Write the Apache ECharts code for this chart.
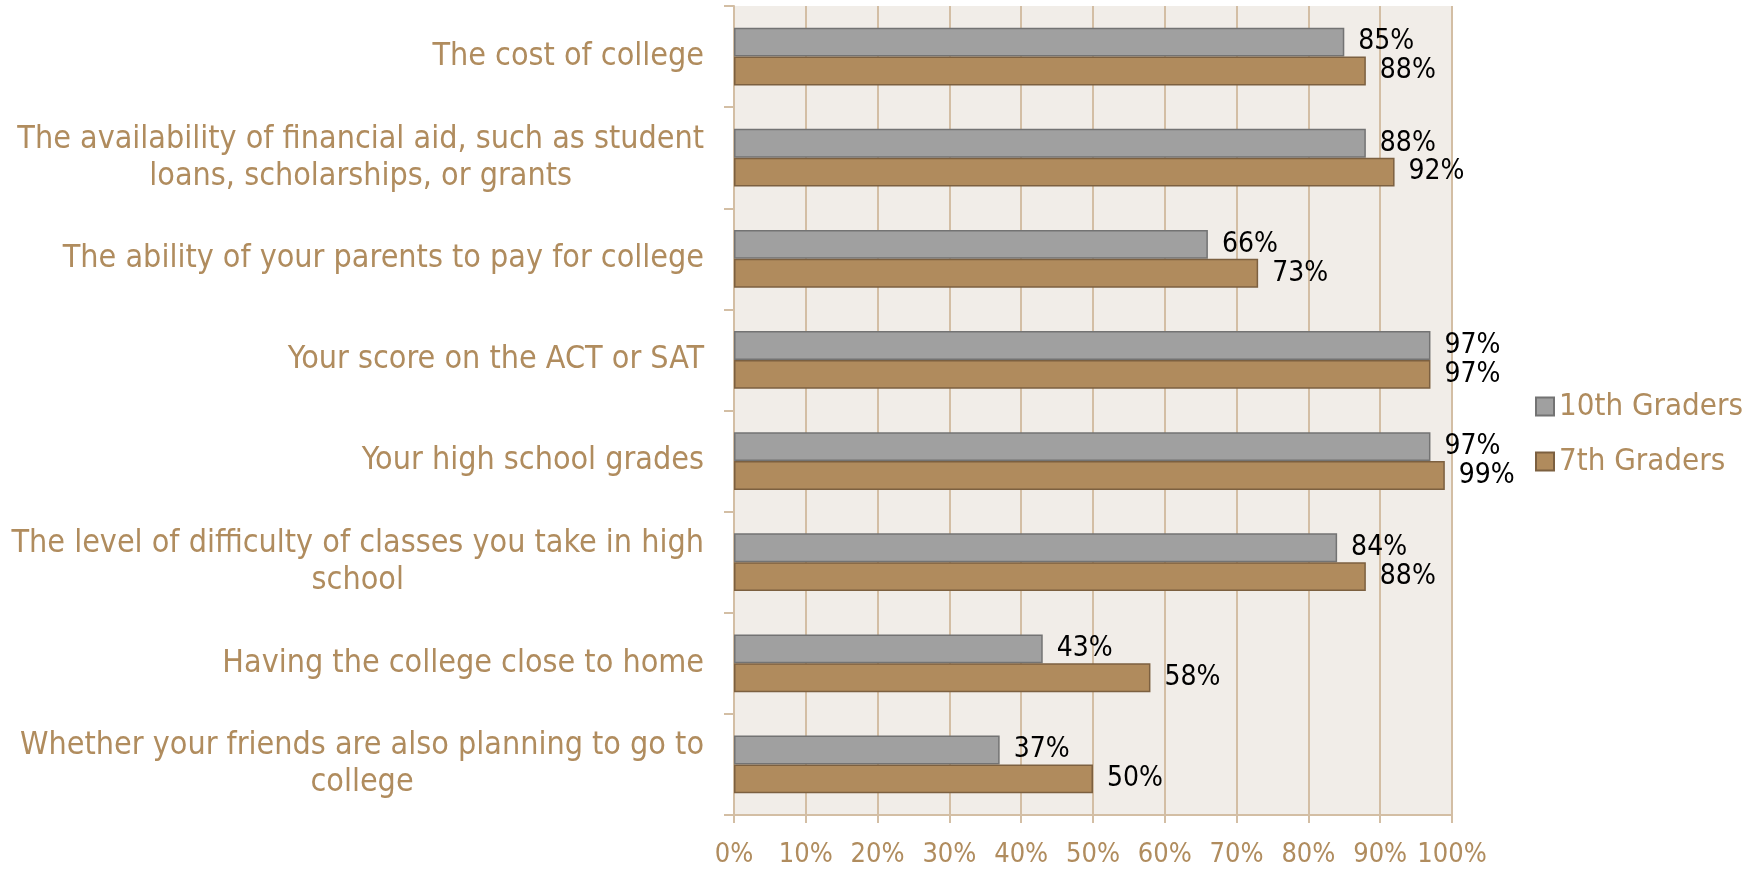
<!DOCTYPE html>
<html>
<head>
<meta charset="utf-8">
<script src="https://cdn.jsdelivr.net/npm/echarts@6/dist/echarts.min.js"></script>
<style>
  html, body { margin: 0; padding: 0; background: #fff; }
  #chart { width: 1758px; height: 869px; }
</style>
</head>
<body>
<div id="chart"></div>
<script>
const categories = [
  'The cost of college',
  'The availability of financial aid, such as student\nloans, scholarships, or grants',
  'The ability of your parents to pay for college',
  'Your score on the ACT or SAT',
  'Your high school grades',
  'The level of difficulty of classes you take in high\nschool',
  'Having the college close to home',
  'Whether your friends are also planning to go to\ncollege'
]
const tenthGraders = [85, 88, 66, 97, 97, 84, 43, 37]
const seventhGraders = [88, 92, 73, 97, 99, 88, 58, 50]
const xTicks = [0, 10, 20, 30, 40, 50, 60, 70, 80, 90, 100]

const tan = '#b08c5e'
const gridTan = '#d3bea4'
const font = "'Liberation Sans Narrow', 'DejaVu Sans Condensed', sans-serif"

const chart = echarts.init(document.getElementById('chart'))

const labelOpt = {
  show: true,
  position: 'right',
  distance: 14,
  color: '#000',
  fontFamily: font,
  fontSize: 28,
  formatter: '{c}%'
}

chart.setOption({
  animation: false,
  grid: {
    left: 734,
    right: 306,
    top: 6,
    bottom: 54,
    containLabel: false,
    outerBoundsMode: 'none',
    show: true,
    backgroundColor: '#f1ede8',
    borderWidth: 0
  },
  legend: {
    orient: 'vertical',
    left: 1530,
    top: 386,
    icon: 'rect',
    itemWidth: 18,
    itemHeight: 18,
    itemGap: 24,
    data: ['10th Graders', '7th Graders'],
    textStyle: { color: tan, fontFamily: font, fontSize: 31 }
  },
  xAxis: {
    type: 'value',
    min: xTicks[0],
    max: xTicks[xTicks.length - 1],
    interval: 10,
    axisLine: { show: true, lineStyle: { color: gridTan, width: 2 } },
    axisTick: { show: true, length: 8, lineStyle: { color: gridTan, width: 2 } },
    splitLine: { show: true, lineStyle: { color: gridTan, width: 2 } },
    axisLabel: {
      color: tan,
      fontFamily: font,
      fontSize: 27,
      margin: 26,
      hideOverlap: false,
      showMinLabel: true,
      showMaxLabel: true,
      formatter: '{value}%'
    }
  },
  yAxis: {
    type: 'category',
    inverse: true,
    data: categories,
    axisLine: { show: true, lineStyle: { color: gridTan, width: 2 } },
    axisTick: { show: true, length: 10, lineStyle: { color: gridTan, width: 2 } },
    axisLabel: {
      margin: 30,
      align: 'right',
      formatter: v => v.split('\n').map(s => '{c|' + s + '}').join('\n'),
      rich: {
        c: {
          align: 'center',
          color: tan,
          fontFamily: font,
          fontSize: 32,
          lineHeight: 37
        }
      }
    }
  },
  series: [
    {
      name: '10th Graders',
      type: 'bar',
      data: tenthGraders,
      barGap: '0%',
      barCategoryGap: '43%',
      itemStyle: { color: '#a0a0a0', borderColor: '#737373', borderWidth: 1.5 },
      label: labelOpt
    },
    {
      name: '7th Graders',
      type: 'bar',
      data: seventhGraders,
      barGap: '0%',
      barCategoryGap: '43%',
      itemStyle: { color: '#b08b5d', borderColor: '#7c6040', borderWidth: 1.5 },
      label: labelOpt
    }
  ]
})
</script>
</body>
</html>
